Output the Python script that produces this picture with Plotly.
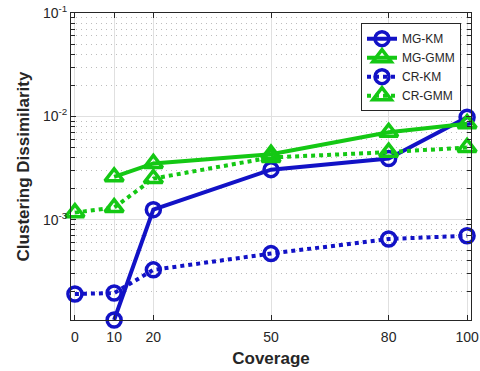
import plotly.graph_objects as go
import numpy as np

coverage_all = [0, 10, 20, 50, 80, 100]
coverage_mg_km = [10, 20, 50, 80, 100]
mg_km = [1.07e-4, 1.25e-3, 3.05e-3, 3.9e-3, 9.8e-3]
mg_gmm = [2.6e-3, 3.5e-3, 4.3e-3, 7.0e-3, 8.5e-3]
coverage_mg_gmm = [10, 20, 50, 80, 100]
cr_km = [1.91e-4, 1.95e-4, 3.27e-4, 4.7e-4, 6.5e-4, 7.0e-4]
cr_gmm = [1.17e-3, 1.31e-3, 2.5e-3, 4.0e-3, 4.5e-3, 5.0e-3]

x_ticks = [0, 10, 20, 50, 80, 100]
y_ticks = [1e-3, 1e-2, 1e-1]
y_ticktext = ["10<sup>-3</sup>", "10<sup>-2</sup>", "10<sup>-1</sup>"]

BLUE = "#1212C6"
GREEN = "#14C814"

fig = go.Figure()

def add(x, y, name, color, dash, symbol, size):
    fig.add_trace(go.Scatter(
        x=x, y=y, name=name, mode="lines+markers",
        line=dict(color=color, width=4, dash=dash),
        marker=dict(symbol=symbol, size=size, color=color,
                    line=dict(color=color, width=3.5)),
        cliponaxis=False,
    ))

add(coverage_mg_km, mg_km, "MG-KM", BLUE, "solid", "circle-open", 14)
add(coverage_mg_gmm, mg_gmm, "MG-GMM", GREEN, "solid", "triangle-up-open", 16)
add(coverage_all, cr_km, "CR-KM", BLUE, "dot", "circle-open", 14)
add(coverage_all, cr_gmm, "CR-GMM", GREEN, "dot", "triangle-up-open", 16)

minor_vals = [m * 10.0 ** k for k in range(-4, -1) for m in range(2, 10)]

fig.update_layout(
    width=480, height=371,
    margin=dict(l=71, r=9, t=13, b=51),
    paper_bgcolor="white", plot_bgcolor="white",
    font=dict(family="Liberation Sans, Arial, sans-serif", color="#262626"),
    showlegend=True,
    legend=dict(
        x=0.975, y=0.967, xanchor="right", yanchor="top",
        bgcolor="white", bordercolor="#262626", borderwidth=1,
        font=dict(size=12, color="#262626"),
        tracegroupgap=0, itemwidth=30,
    ),
)

fig.update_xaxes(
    range=[-1, 101], automargin=False,
    tickvals=x_ticks,
    ticks="inside", ticklen=5, tickcolor="#262626",
    ticklabeloverflow="allow", ticklabelstandoff=4,
    showline=True, linecolor="#262626", linewidth=1, mirror="ticks",
    showgrid=True, gridcolor="#E0E0E0", gridwidth=1,
    zeroline=False,
    tickfont=dict(size=14, color="#262626"),
    title=dict(text="<b>Coverage</b>", font=dict(size=17, color="#262626"), standoff=8),
)

fig.update_yaxes(
    type="log", automargin=False,
    range=[np.log10(1.07e-4), -1],
    tickvals=y_ticks, ticktext=y_ticktext,
    ticks="inside", ticklen=5, tickcolor="#262626",
    ticklabeloverflow="allow",
    showline=True, linecolor="#262626", linewidth=1, mirror="ticks",
    showgrid=True, gridcolor="#E0E0E0", gridwidth=1,
    zeroline=False,
    tickfont=dict(size=14, color="#262626"),
    minor=dict(tickvals=minor_vals, ticks="inside", ticklen=4, tickcolor="#262626",
               showgrid=True, gridcolor="#BDBDBD", griddash="1px,4px", gridwidth=1),
    title=dict(text="<b>Clustering Dissimilarity</b>", font=dict(size=17, color="#262626"), standoff=8),
)

fig.write_html("out.html", config={"displayModeBar": False},
               post_script="document.body.style.margin='0';")
